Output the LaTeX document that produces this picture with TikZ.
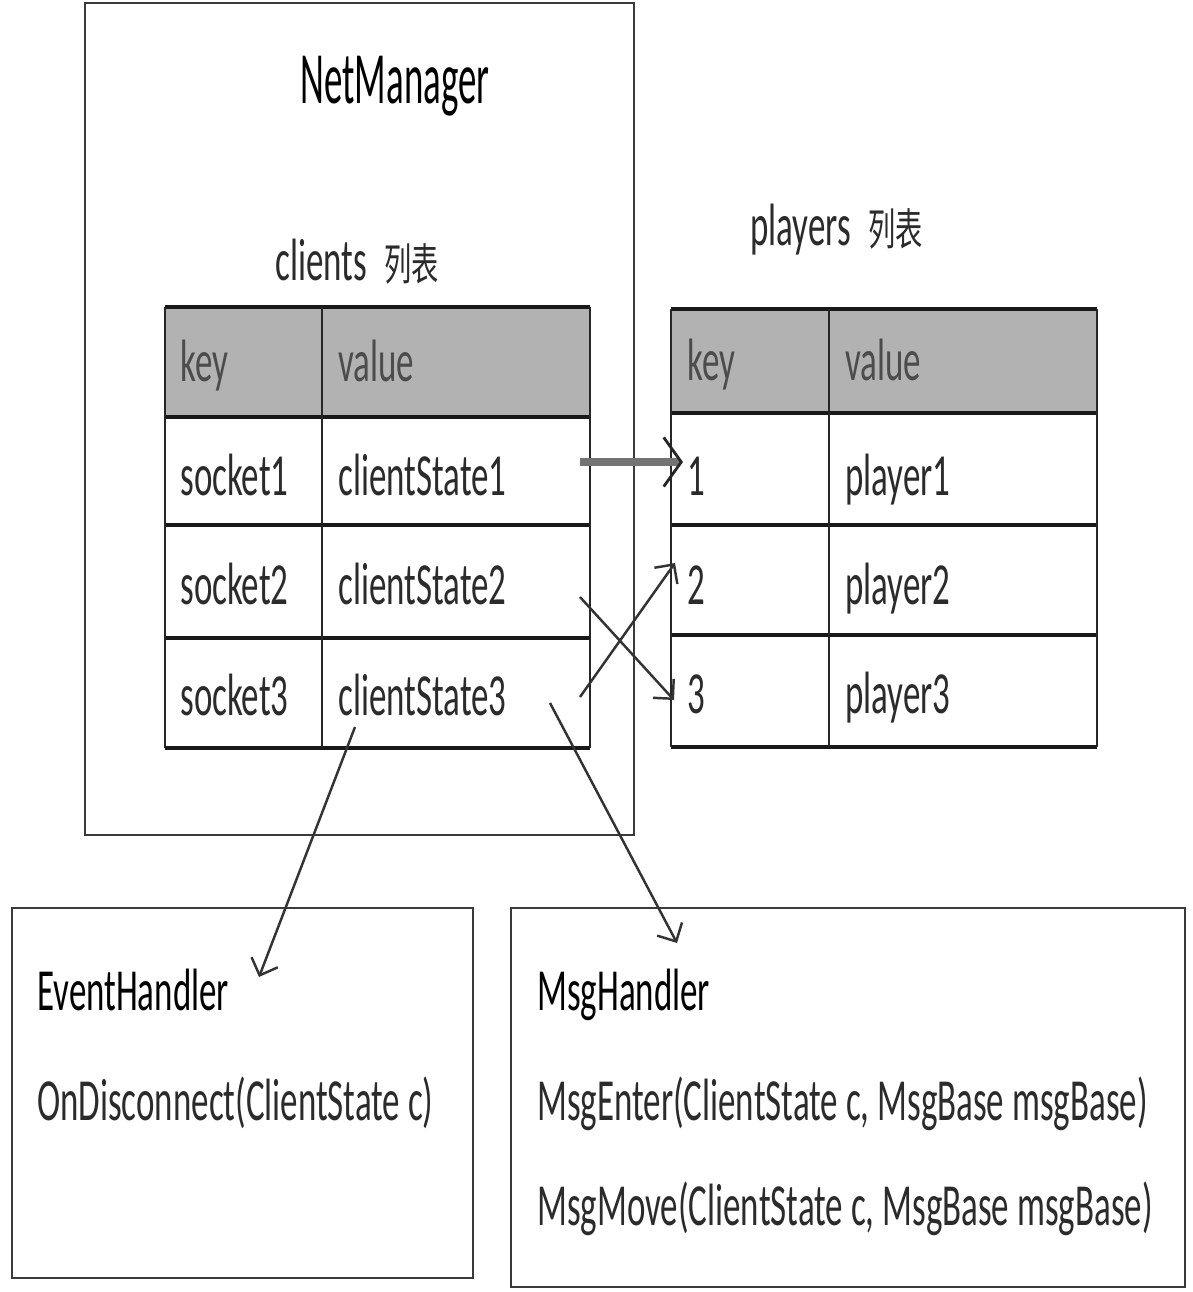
\documentclass[tikz,border=0pt]{standalone}
\usepackage{fontspec}
\setmainfont{Carlito}[FakeStretch=0.585]
\newfontfamily\titlefont{Carlito}[FakeStretch=0.5]
\newfontfamily\cjk{Noto Sans CJK SC}[FakeStretch=0.62]
\usetikzlibrary{arrows.meta}
\definecolor{txt}{HTML}{2B2B2B}
\definecolor{hdr}{HTML}{B2B2B2}
\definecolor{boxline}{HTML}{3A3A3A}
\begin{document}
\begin{tikzpicture}[x=0.02cm,y=-0.02cm,
  lbl/.style={anchor=base west, inner sep=0, text=txt, font=\fontsize{34}{40}\selectfont},
  ttl/.style={anchor=base, inner sep=0, text=black, font=\titlefont\fontsize{42}{48}\selectfont},
  hline/.style={line width=1.8pt, draw=black!90},
  vline/.style={line width=1.1pt, draw=black!85},
  frame/.style={line width=1.2pt, draw=boxline},
  hbox/.style={line width=1.6pt, draw=boxline},
  link/.style={line width=1.4pt, draw=black!80, -{Straight Barb[length=8pt,width=16pt,line width=1.4pt]}},
  biglink/.style={line width=4pt, draw=black!55, -{Straight Barb[length=10pt,width=28pt,line width=1.6pt,color=black!85]}}
]
\useasboundingbox (0,0) rectangle (1193,1292);
\fill[white] (0,0) rectangle (1193,1292);

% NetManager frame
\draw[frame] (85,3) rectangle (634,835);
\node[ttl] (nm) at (395,103) {NetManager};
\node[lbl] (cl) at (275,280) {clients\hspace{10pt}{\cjk\fontsize{25}{30}\selectfont 列表}};

% clients table
\fill[hdr] (165,307) rectangle (590,417);
\draw[hline] (165,307) -- (590,307);
\draw[hline] (165,417) -- (590,417);
\draw[hline] (165,525) -- (590,525);
\draw[hline] (165,638) -- (590,638);
\draw[hline] (165,748) -- (590,748);
\draw[vline] (165,307) -- (165,748);
\draw[vline] (322,307) -- (322,748);
\draw[vline] (590,307) -- (590,748);
\node[lbl, text=black!70] (ck) at (180,381) {key};
\node[lbl, text=black!70] (cv) at (338,381) {value};
\node[lbl] (k1) at (180,495) {socket1};
\node[lbl] (v1) at (338,495) {clientState1};
\node[lbl] (k2) at (180,604) {socket2};
\node[lbl] (v2) at (338,604) {clientState2};
\node[lbl] (k3) at (180,715) {socket3};
\node[lbl] (v3) at (338,715) {clientState3};

% players table
\node[lbl] (pl) at (750,245) {players\hspace{10pt}{\cjk\fontsize{25}{30}\selectfont 列表}};
\fill[hdr] (671,309) rectangle (1097,413);
\draw[hline] (671,309) -- (1097,309);
\draw[hline] (671,413) -- (1097,413);
\draw[hline] (671,525) -- (1097,525);
\draw[hline] (671,635) -- (1097,635);
\draw[hline] (671,747) -- (1097,747);
\draw[vline] (671,309) -- (671,747);
\draw[vline] (829,309) -- (829,747);
\draw[vline] (1097,309) -- (1097,747);
\node[lbl, text=black!70] (pk) at (687,380) {key};
\node[lbl, text=black!70] (pv) at (845,380) {value};
\node[lbl] (p1k) at (687,495) {1};
\node[lbl] (p1v) at (845,495) {player1};
\node[lbl] (p2k) at (687,604) {2};
\node[lbl] (p2v) at (845,604) {player2};
\node[lbl] (p3k) at (687,713) {3};
\node[lbl] (p3v) at (845,713) {player3};

% handler boxes
\draw[hbox] (12,908) rectangle (473,1278);
\node[lbl, text=black] (eh) at (37,1010) {EventHandler};
\node[lbl] (od) at (37,1120) {OnDisconnect(ClientState c)};

\draw[hbox] (511,908) rectangle (1185,1287);
\node[lbl, text=black] (mh) at (537,1010) {MsgHandler};
\node[lbl] (me) at (537,1120) {MsgEnter(ClientState c, MsgBase msgBase)};
\node[lbl] (mm) at (537,1225) {MsgMove(ClientState c, MsgBase msgBase)};

% connector endpoints
\coordinate (s1) at (580,462);
\coordinate (t1) at (683,462);
\coordinate (s2) at (580,597);
\coordinate (t3) at (674,700);
\coordinate (s3) at (580,697);
\coordinate (t2) at (675,563);
\coordinate (s4) at (355,727);
\coordinate (t4) at (259,977);
\coordinate (s5) at (550,703);
\coordinate (t5) at (677,943);

\draw[biglink] (s1) -- (t1);
\draw[link] (s2) -- (t3);
\draw[link] (s3) -- (t2);
\draw[link] (s4) -- (t4);
\draw[link] (s5) -- (t5);
\end{tikzpicture}
\end{document}
